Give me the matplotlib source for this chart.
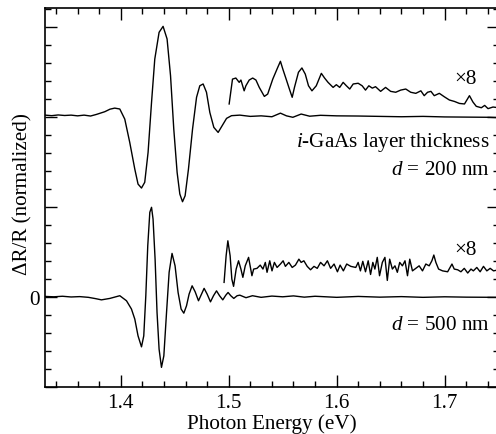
import matplotlib
matplotlib.use("Agg")
import matplotlib.pyplot as plt
from matplotlib.ticker import MultipleLocator, FixedLocator, FuncFormatter

plt.rcParams['font.family'] = ['Liberation Serif', 'DejaVu Serif']
plt.rcParams['mathtext.fontset'] = 'custom'
plt.rcParams['mathtext.rm'] = 'Liberation Serif'
plt.rcParams['mathtext.it'] = 'Liberation Serif:italic'

# ---------------- data ----------------
# d = 200 nm spectrum (relative to its own baseline)
e200 = [1.330, 1.336, 1.342, 1.348, 1.354, 1.360, 1.366, 1.372, 1.3775, 1.3852, 1.390,
        1.3944, 1.3991, 1.4037, 1.4083, 1.413, 1.416, 1.4192, 1.4222, 1.4253, 1.4285,
        1.4315, 1.4355, 1.4392, 1.4429, 1.4461, 1.4491, 1.4522, 1.4547, 1.4572, 1.4596,
        1.4627, 1.4665, 1.4702, 1.4732, 1.4763, 1.4794, 1.4825, 1.4862, 1.4902, 1.4943,
        1.498, 1.5026, 1.5103, 1.520, 1.530, 1.540, 1.5479, 1.5535, 1.5594, 1.5671,
        1.575, 1.585, 1.600, 1.620, 1.640, 1.660, 1.680, 1.700, 1.720, 1.7415, 1.750]
r200 = [0.09, 0.06, 0.10, 0.07, 0.09, 0.05, 0.09, 0.04, 0.13, 0.28, 0.42,
        0.48, 0.43, -0.13, -1.42, -2.91, -3.74, -3.96, -3.64, -1.98, 0.80,
        3.20, 4.69, 5.02, 4.32, 2.28, -0.68, -3.09, -4.29, -4.72, -4.39,
        -2.91, -0.68, 1.08, 1.72, 1.82, 1.36, 0.24, -0.59, -0.87, -0.46,
        -0.09, 0.06, 0.09, 0.02, 0.05, 0.00, 0.20, 0.05, -0.03, 0.15,
        0.03, 0.08, 0.05, 0.04, 0.02, 0.00, 0.02, -0.01, -0.02, -0.03, -0.05]

# d = 200 nm, x8 magnified part (relative to the same baseline)
e200x8 = [1.5004, 1.5035, 1.5066, 1.5097, 1.5113, 1.5143, 1.5159, 1.519, 1.5222, 1.5252,
          1.5283, 1.533, 1.5361, 1.5408, 1.5454, 1.5479, 1.5501, 1.5532, 1.5562, 1.5588,
          1.5609, 1.5646, 1.5678, 1.5709, 1.5739, 1.5771, 1.5811, 1.5858, 1.5888, 1.592,
          1.5967, 1.5997, 1.6028, 1.606, 1.609, 1.6121, 1.6153, 1.6199, 1.6236, 1.6267,
          1.6298, 1.633, 1.636, 1.6407, 1.6453, 1.650, 1.6547, 1.6593, 1.664, 1.6686,
          1.6733, 1.678, 1.6811, 1.6842, 1.6873, 1.6904, 1.6951, 1.6997, 1.7044, 1.7091,
          1.7137, 1.7184, 1.723, 1.7262, 1.7293, 1.734, 1.7371, 1.7402, 1.7448, 1.750]
r200x8 = [0.71, 2.09, 2.15, 1.91, 2.04, 1.44, 1.72, 2.04, 2.15, 2.04,
          1.63, 1.13, 1.26, 2.09, 2.74, 3.08, 2.65, 2.09, 1.54, 1.08,
          1.63, 2.47, 2.71, 2.37, 1.72, 1.44, 1.72, 2.41, 2.15, 1.91,
          1.63, 1.78, 1.63, 1.91, 1.72, 1.54, 1.82, 1.86, 1.72, 1.48,
          1.72, 1.59, 1.67, 1.41, 1.63, 1.41, 1.36, 1.48, 1.54, 1.36,
          1.30, 1.44, 1.17, 1.36, 1.41, 1.17, 1.30, 1.11, 0.93, 0.85,
          0.74, 0.71, 1.17, 0.82, 0.58, 0.50, 0.63, 0.45, 0.54, 0.50]

# d = 500 nm spectrum
e500 = [1.330, 1.338, 1.346, 1.354, 1.362, 1.370, 1.3765, 1.3821, 1.3899, 1.3991,
        1.4053, 1.4099, 1.413, 1.416, 1.4192, 1.4213, 1.4232, 1.425, 1.4269, 1.4285,
        1.4299, 1.4318, 1.4336, 1.4355, 1.4377, 1.4399, 1.4424, 1.4448, 1.4475, 1.4503,
        1.4531, 1.4559, 1.4584, 1.4609, 1.4633, 1.4661, 1.4689, 1.472, 1.4748, 1.4772,
        1.480, 1.4831, 1.4859, 1.4887, 1.4915, 1.4945, 1.4973, 1.4994, 1.5019, 1.5047,
        1.5078, 1.5103, 1.516, 1.522, 1.530, 1.540, 1.550, 1.560, 1.570, 1.580, 1.590,
        1.600, 1.620, 1.640, 1.660, 1.680, 1.700, 1.720, 1.750]
r500 = [0.02, 0.00, 0.03, -0.01, 0.01, -0.03, -0.10, -0.17, -0.09, 0.06,
        -0.22, -0.68, -1.24, -2.17, -2.78, -2.17, 0.06, 2.83, 4.69, 4.97,
        4.32, 2.09, -0.87, -2.91, -3.92, -3.28, -0.87, 1.36, 2.41, 1.72,
        0.24, -0.68, -0.91, -0.50, 0.15, 0.61, 0.28, -0.22, 0.15, 0.47,
        0.15, -0.28, 0.06, 0.33, 0.06, -0.17, 0.09, 0.24, 0.06, -0.09,
        0.06, 0.09, -0.05, 0.06, -0.03, 0.04, 0.00, 0.05, -0.02, 0.03, 0.00,
        -0.03, 0.02, -0.02, 0.01, -0.03, 0.00, -0.02, -0.03]

# d = 500 nm, x8 magnified part
e500x8 = [1.4957, 1.4976, 1.4992, 1.5013, 1.5029, 1.5045, 1.5069, 1.5091, 1.5113, 1.5131,
          1.5153, 1.5184, 1.5215, 1.5231, 1.5262, 1.5292, 1.5317, 1.5339, 1.5355, 1.538,
          1.5401, 1.5423, 1.5448, 1.5479, 1.5504, 1.5525, 1.5557, 1.5588, 1.5618, 1.565,
          1.5671, 1.5696, 1.5727, 1.5758, 1.579, 1.582, 1.5851, 1.5883, 1.5914, 1.5944,
          1.5976, 1.6007, 1.6032, 1.6062, 1.6093, 1.6131, 1.6177, 1.6199, 1.622, 1.6242,
          1.6267, 1.6292, 1.6314, 1.6335, 1.6354, 1.6376, 1.6397, 1.6423, 1.6447, 1.6469,
          1.6491, 1.6516, 1.654, 1.6562, 1.6584, 1.6609, 1.6633, 1.6656, 1.6677, 1.6702,
          1.6733, 1.6764, 1.6795, 1.6826, 1.6857, 1.6882, 1.690, 1.6919, 1.6944, 1.6981,
          1.7028, 1.7068, 1.7089, 1.7121, 1.7151, 1.7182, 1.7214, 1.7244, 1.7266, 1.7298,
          1.7329, 1.736, 1.7391, 1.7422, 1.7453, 1.750]
r500x8 = [0.80, 2.28, 3.11, 2.28, 0.98, 0.58, 1.54, 2.00, 1.54, 1.08,
          1.72, 2.19, 1.17, 1.54, 1.58, 1.76, 1.54, 1.91, 1.36, 2.00,
          1.44, 1.91, 1.63, 1.82, 2.00, 1.69, 1.91, 1.63, 1.76, 2.09,
          1.91, 2.00, 1.69, 1.50, 1.69, 1.58, 1.91, 1.72, 2.00, 1.58,
          1.82, 1.39, 1.76, 1.44, 1.82, 1.69, 1.63, 1.91, 1.44, 1.97,
          1.39, 2.00, 1.24, 1.91, 1.54, 2.19, 1.17, 1.91, 2.19, 0.91,
          2.09, 1.54, 1.72, 1.36, 1.91, 1.72, 2.00, 1.17, 2.09, 1.44,
          1.58, 1.72, 1.44, 1.82, 1.72, 2.00, 2.32, 1.91, 1.54, 1.44,
          1.39, 1.82, 1.54, 1.50, 1.39, 1.58, 1.32, 1.54, 1.44, 1.63,
          1.39, 1.69, 1.44, 1.58, 1.44, 1.50]

offset_200 = 10.0
offset_500 = 0.0

xticks_major = [1.4, 1.5, 1.6, 1.7]

# ---------------- figure ----------------
W, H = 496, 435
fig = plt.figure(figsize=(W / 100, H / 100), dpi=100)
left, right, top, bottom = 45.2, 498.6, 9.0, 388.0
ax = fig.add_axes([left / W, (H - bottom) / H, (right - left) / W, (bottom - top) / H])

lw = 1.0
ax.plot(e200, [v + offset_200 for v in r200], color='black', lw=lw)
ax.plot(e200x8, [v + offset_200 for v in r200x8], color='black', lw=lw)
ax.plot(e500, [v + offset_500 for v in r500], color='black', lw=lw)
ax.plot(e500x8, [v + offset_500 for v in r500x8], color='black', lw=lw)

ax.set_xlim(1.33, 1.75)
ax.set_ylim(-5.01, 16.04)

fs = 15.2
ax.xaxis.set_major_locator(FixedLocator(xticks_major))
ax.xaxis.set_minor_locator(MultipleLocator(0.02))
ax.xaxis.set_major_formatter(FuncFormatter(lambda v, p: f"{v:.1f}"))
ax.yaxis.set_major_locator(MultipleLocator(5))
ax.yaxis.set_minor_locator(MultipleLocator(1))
ax.yaxis.set_major_formatter(FuncFormatter(lambda v, p: "0" if abs(v) < 1e-9 else ""))

ax.tick_params(which='both', direction='in', top=True, right=True, width=1.0, labelsize=fs)
ax.tick_params(which='major', length=8.5, pad=4)
ax.tick_params(which='minor', length=4.2)
for s in ax.spines.values():
    s.set_linewidth(1.2)

ax.set_xlabel("Photon Energy (eV)", fontsize=fs, labelpad=1)
ax.set_ylabel("ΔR/R (normalized)", fontsize=fs)
ax.yaxis.set_label_coords(-0.027, 0.512)

ax.text(1.719, 12.1, "×8", fontsize=fs, ha='center', va='center')
ax.text(1.719, 2.65, "×8", fontsize=fs, ha='center', va='center')
ax.text(1.7422, 8.6, "$i$-GaAs layer thickness", fontsize=fs, ha='right', va='center')
ax.text(1.7422, 7.08, "$d$ = 200 nm", fontsize=fs, ha='right', va='center')
ax.text(1.7422, -1.52, "$d$ = 500 nm", fontsize=fs, ha='right', va='center')

fig.savefig("out.png", dpi=100)
